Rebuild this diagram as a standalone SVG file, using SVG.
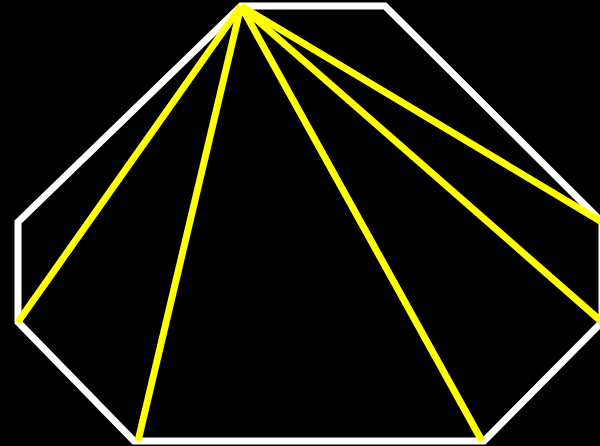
<svg xmlns="http://www.w3.org/2000/svg" width="600" height="446" viewBox="0 0 600 446">
<style>
.oct{fill:none;stroke:#fff;stroke-width:7;stroke-linejoin:miter}
.diag{stroke:#ff0;stroke-width:7;stroke-linecap:butt}
</style>
<rect width="600" height="446" fill="#000"/>
<g id="octagon">
<polygon class="oct" points="241,6 385,6 602,222 602,322 484,441 134,441 18,322 18,222"/>
</g>
<g id="connectors">
<line class="diag" x1="241" y1="6" x2="18" y2="322"/>
<line class="diag" x1="241" y1="6" x2="138" y2="441"/>
<line class="diag" x1="241" y1="6" x2="482" y2="441"/>
<line class="diag" x1="241" y1="6" x2="602" y2="322"/>
<line class="diag" x1="241" y1="6" x2="602" y2="222"/>
</g>
</svg>
